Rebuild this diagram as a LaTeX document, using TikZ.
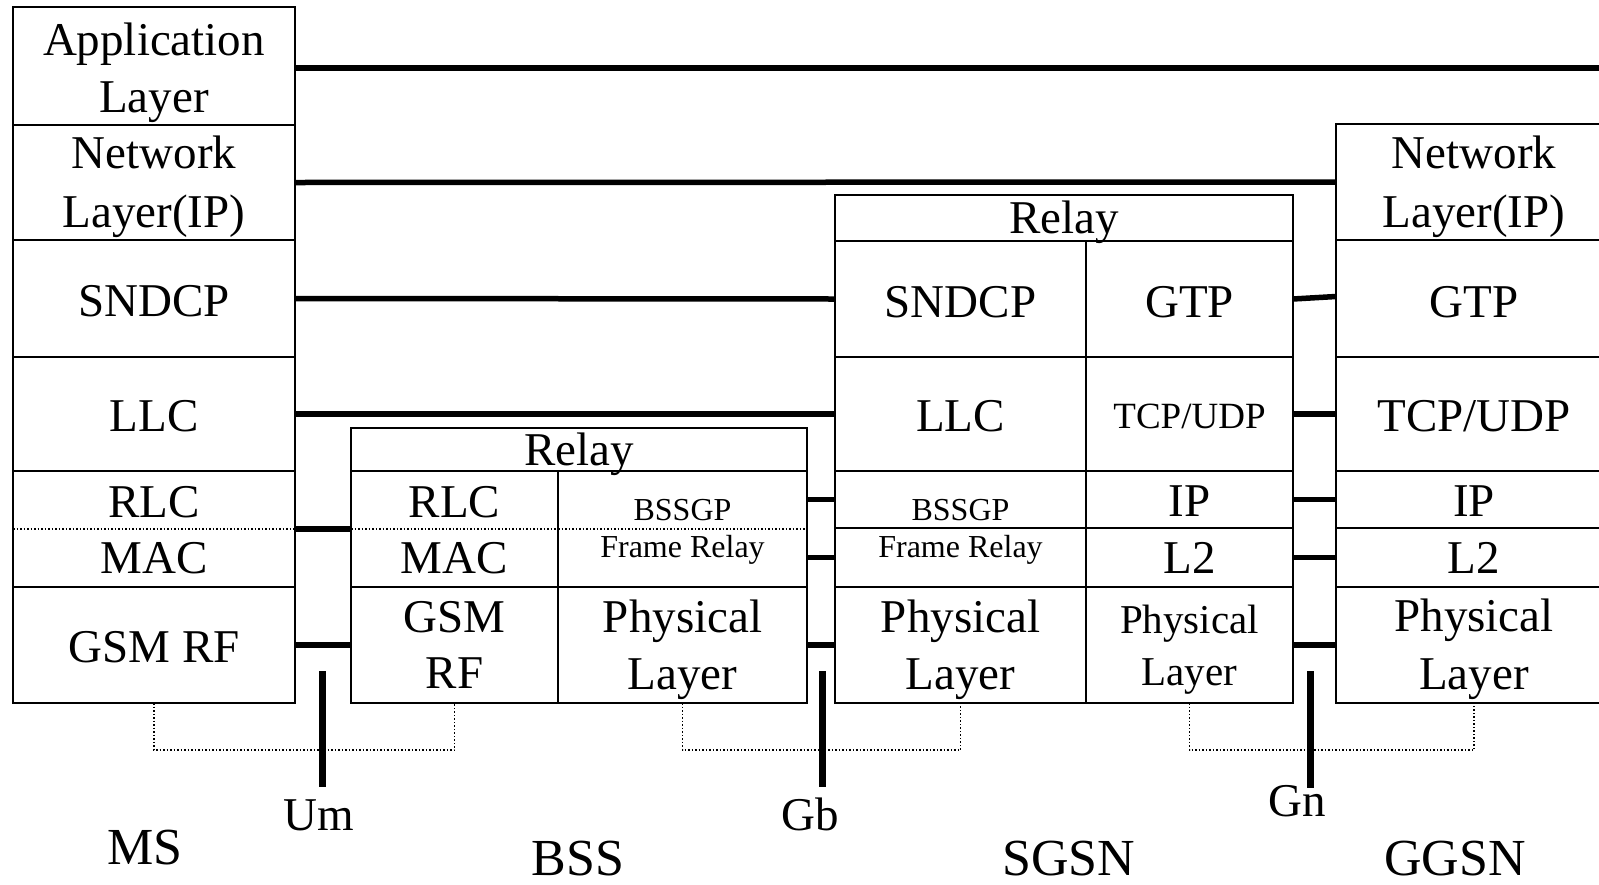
\documentclass[tikz,border=0pt]{standalone}
\usepackage{fontspec}
\setmainfont{Liberation Serif}
\newcommand\mycell[5]{\node[cell, minimum width={#4-#2}, minimum height={#5-#3}] (#1) at ({(#2+#4)/2},{(#3+#5)/2}) {};}
\begin{document}
\begin{tikzpicture}[x=1pt,y=-1pt,
  cell/.style={draw, rectangle, line width=1.6pt, inner sep=0pt, outer sep=0pt},
  txt/.style={anchor=base, inner sep=0pt, font=\fontsize{47}{56}\selectfont},
  txts/.style={txt, font=\fontsize{32}{38}\selectfont},
  txtm/.style={txt, font=\fontsize{41}{48}\selectfont},
  txtt/.style={txt, font=\fontsize{37}{44}\selectfont},
  lbl/.style={txt, text depth=0pt, font=\fontsize{52}{60}\selectfont},
  conn/.style={line width=5.5pt},
  iface/.style={line width=7pt},
  dotline/.style={line width=1.2pt, dash pattern=on 1.5pt off 2pt}]
\clip (0,0) rectangle (1599,884);
\fill[white] (0,0) rectangle (1599,884);
% MS
\mycell{msApp}{13}{7}{295}{125}
\mycell{msNet}{13}{125}{295}{240}
\mycell{msSNDCP}{13}{240}{295}{357}
\mycell{msLLC}{13}{357}{295}{471}
\mycell{msRLCMAC}{13}{471}{295}{587}
\mycell{msRF}{13}{587}{295}{703}
% BSS
\mycell{bssRelay}{351}{428}{807}{471}
\mycell{bssRLC}{351}{471}{558}{587}
\mycell{bssRF}{351}{587}{558}{703}
\mycell{bssBSSGP}{558}{471}{807}{587}
\mycell{bssPhy}{558}{587}{807}{703}
% SGSN
\mycell{sgRelay}{835}{195}{1293}{241}
\mycell{sgSNDCP}{835}{241}{1086}{357}
\mycell{sgLLC}{835}{357}{1086}{471}
\mycell{sgBSSGP}{835}{471}{1086}{528}
\mycell{sgFR}{835}{528}{1086}{587}
\mycell{sgPhyL}{835}{587}{1086}{703}
\mycell{sgGTP}{1086}{241}{1293}{357}
\mycell{sgTCP}{1086}{357}{1293}{471}
\mycell{sgIP}{1086}{471}{1293}{528}
\mycell{sgL2}{1086}{528}{1293}{587}
\mycell{sgPhyR}{1086}{587}{1293}{703}
% GGSN
\mycell{ggNet}{1336}{124}{1612}{240}
\mycell{ggGTP}{1336}{240}{1612}{357}
\mycell{ggTCP}{1336}{357}{1612}{471}
\mycell{ggIP}{1336}{471}{1612}{528}
\mycell{ggL2}{1336}{528}{1612}{587}
\mycell{ggPhy}{1336}{587}{1612}{703}
% dotted separators
\draw[dotline] (msRLCMAC.west) -- (msRLCMAC.east);
\draw[dotline] (bssRLC.west) -- (bssRLC.east);
\draw[dotline] (bssBSSGP.west) -- (bssBSSGP.east);
% peer connectors
\coordinate (appEnd) at (1612,68);
\draw[conn] (msApp.east |- appEnd) -- (appEnd);
\draw[conn] (msNet.east) -- (ggNet.west);
\draw[conn] (msSNDCP.east) -- (sgSNDCP.west);
\draw[conn] (msLLC.east) -- (sgLLC.west);
\draw[conn] (msRLCMAC.east) -- (bssRLC.west);
\draw[conn] (msRF.east) -- (bssRF.west);
\draw[conn] (bssBSSGP.east |- sgBSSGP.west) -- (sgBSSGP.west);
\draw[conn] (bssBSSGP.east |- sgFR.west) -- (sgFR.west);
\draw[conn] (bssPhy.east) -- (sgPhyL.west);
\draw[conn] (sgGTP.east) -- ([yshift=2pt]ggGTP.west);
\draw[conn] (sgTCP.east) -- (ggTCP.west);
\draw[conn] (sgIP.east) -- (ggIP.west);
\draw[conn] (sgL2.east) -- (ggL2.west);
\draw[conn] (sgPhyR.east) -- (ggPhy.west);
% interfaces
\coordinate (um1) at (322,671); \coordinate (um2) at (322,787);
\coordinate (gb1) at (822,671); \coordinate (gb2) at (822,787);
\coordinate (gn1) at (1310,671); \coordinate (gn2) at (1310,788);
\draw[iface] (um1) -- (um2);
\draw[iface] (gb1) -- (gb2);
\draw[iface] (gn1) -- (gn2);
% brackets
\draw[dotline] (msRF.south) -- (msRF.south |- 0,750) -| (bssRF.south);
\draw[dotline] (bssPhy.south) -- (bssPhy.south |- 0,750) -| (sgPhyL.south);
\draw[dotline] (sgPhyR.south) -- (sgPhyR.south |- 0,750) -| (ggPhy.south);
% texts MS
\node[txt] (tA1) at (154,55) {Application};
\node[txt] (tA2) at (154,112) {Layer};
\node[txt] (tN1) at (154,168) {Network};
\node[txt] (tN2) at (154,227) {Layer(IP)};
\node[txt] (tS) at (154,316) {SNDCP};
\node[txt] (tL) at (154,431) {LLC};
\node[txt] (tR) at (154,517) {RLC};
\node[txt] (tM) at (154,573) {MAC};
\node[txt] (tG) at (154,662) {GSM RF};
% texts BSS
\node[txt] (bRe) at (579,465) {Relay};
\node[txt] (bR) at (454.5,517) {RLC};
\node[txt] (bM) at (454.5,573) {MAC};
\node[txt] (bG1) at (454.5,632) {GSM};
\node[txt] (bG2) at (454.5,688) {RF};
\node[txts] (bB) at (682.5,520) {BSSGP};
\node[txts] (bF) at (682.5,557) {Frame Relay};
\node[txt] (bP1) at (682.5,632) {Physical};
\node[txt] (bP2) at (682.5,689) {Layer};
% texts SGSN
\node[txt] (sRe) at (1064,233) {Relay};
\node[txt] (sS) at (960.5,317) {SNDCP};
\node[txt] (sL) at (960.5,431) {LLC};
\node[txts] (sB) at (960.5,520) {BSSGP};
\node[txts] (sF) at (960.5,557) {Frame Relay};
\node[txt] (sP1) at (960.5,632) {Physical};
\node[txt] (sP2) at (960.5,689) {Layer};
\node[txt] (sG) at (1189.5,317) {GTP};
\node[txtt] (sT) at (1189.5,428) {TCP/UDP};
\node[txt] (sI) at (1189.5,516) {IP};
\node[txt] (s2) at (1189.5,573) {L2};
\node[txtm] (sQ1) at (1189.5,633) {Physical};
\node[txtm] (sQ2) at (1189.5,685) {Layer};
% texts GGSN
\node[txt] (gN1) at (1474,168) {Network};
\node[txt] (gN2) at (1474,227) {Layer(IP)};
\node[txt] (gG) at (1474,317) {GTP};
\node[txt] (gT) at (1474,431) {TCP/UDP};
\node[txt] (gI) at (1474,516) {IP};
\node[txt] (g2) at (1474,573) {L2};
\node[txt] (gP1) at (1474,631) {Physical};
\node[txt] (gP2) at (1474,689) {Layer};
% labels
\node[lbl] (lMS) at (145,864) {MS};
\node[txt] (lUm) at (319,830) {Um};
\node[lbl] (lBSS) at (578,875) {BSS};
\node[txt] (lGb) at (810,830) {Gb};
\node[lbl] (lSGSN) at (1069,875) {SGSN};
\node[txt] (lGn) at (1297,816) {Gn};
\node[lbl] (lGGSN) at (1455,875) {GGSN};
\end{tikzpicture}
\end{document}
